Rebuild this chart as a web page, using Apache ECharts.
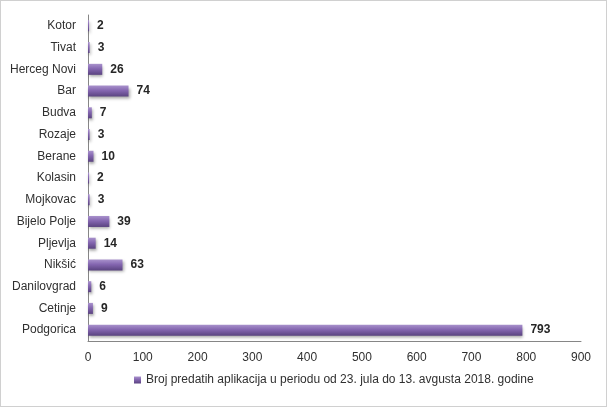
<!DOCTYPE html>
<html><head><meta charset="utf-8">
<script src="https://cdn.jsdelivr.net/npm/echarts@6/dist/echarts.min.js"></script>
<style>
html,body{margin:0;padding:0;background:#fff;}
#c{position:absolute;left:0;top:0;width:605px;height:405px;border:1px solid #d0d0d0;}
</style></head><body>
<div id="c"></div>
<script>
const categories = ["Kotor","Tivat","Herceg Novi","Bar","Budva","Rozaje","Berane","Kolasin","Mojkovac","Bijelo Polje","Pljevlja","Nikšić","Danilovgrad","Cetinje","Podgorica"];
const values = [2,3,26,74,7,3,10,2,3,39,14,63,6,9,793];
const seriesName = "Broj predatih aplikacija u periodu od 23. jula do 13. avgusta 2018. godine";
const xTicks = [0,900,100];

const chart = echarts.init(document.getElementById('c'));
const font = "'Liberation Sans', Arial, sans-serif";
chart.setOption({
  animation:false,
  grid:{left:87,right:25,top:14,bottom:65,containLabel:false},
  legend:{
    bottom:15, left:128,
    itemWidth:7, itemHeight:7, itemGap:4,
    icon:'rect',
    textStyle:{fontFamily:font,fontSize:12,color:'#303030'},
    data:[seriesName]
  },
  xAxis:{
    type:'value', min:xTicks[0], max:xTicks[1], interval:xTicks[2],
    axisLine:{show:true,lineStyle:{color:'#868686'}},
    axisTick:{show:false},
    splitLine:{show:false},
    axisLabel:{fontFamily:font,fontSize:12,color:'#303030',margin:11}
  },
  yAxis:{
    type:'category', data:categories, inverse:true,
    axisLine:{show:true,lineStyle:{color:'#868686'}},
    axisTick:{show:false},
    axisLabel:{fontFamily:font,fontSize:12,color:'#303030',margin:12}
  },
  series:[{
    name:seriesName, type:'bar', data:values, barWidth:11,
    itemStyle:{
      color:new echarts.graphic.LinearGradient(0,0,0,1,[
        {offset:0,color:'#a992cc'},
        {offset:0.45,color:'#8466b0'},
        {offset:1,color:'#5a4380'}
      ]),
      shadowColor:'rgba(0,0,0,0.35)',shadowBlur:3,shadowOffsetX:1,shadowOffsetY:2
    },
    label:{show:true,position:'right',distance:8,fontFamily:font,fontSize:12,fontWeight:'bold',color:'#262626'}
  }]
});
</script>
</body></html>
